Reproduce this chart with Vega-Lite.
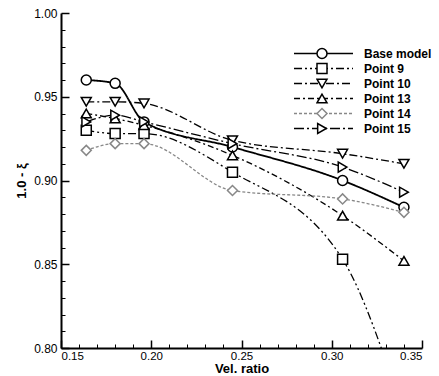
{
  "$schema": "https://vega.github.io/schema/vega-lite/v6.json",
  "width": 361,
  "height": 335,
  "autosize": "none",
  "padding": {"left": 61, "top": 13, "right": 17, "bottom": 28},
  "background": "white",
  "config": {
    "view": {"stroke": null},
    "font": "Liberation Sans",
    "axis": {"grid": false, "domainColor": "black", "domainWidth": 2, "tickColor": "black", "labelColor": "black", "titleColor": "black", "labelFont": "Liberation Sans", "titleFont": "Liberation Sans"}
  },
  "data": {
    "values": [
      {"series": "Base model", "x": 0.164, "y": 0.960},
      {"series": "Base model", "x": 0.180, "y": 0.958},
      {"series": "Base model", "x": 0.196, "y": 0.935},
      {"series": "Base model", "x": 0.245, "y": 0.920},
      {"series": "Base model", "x": 0.306, "y": 0.900},
      {"series": "Base model", "x": 0.340, "y": 0.884},
      {"series": "Point 9", "x": 0.164, "y": 0.930},
      {"series": "Point 9", "x": 0.180, "y": 0.928},
      {"series": "Point 9", "x": 0.196, "y": 0.928},
      {"series": "Point 9", "x": 0.245, "y": 0.905},
      {"series": "Point 9", "x": 0.306, "y": 0.853},
      {"series": "Point 9", "x": 0.340, "y": 0.760},
      {"series": "Point 10", "x": 0.164, "y": 0.947},
      {"series": "Point 10", "x": 0.180, "y": 0.947},
      {"series": "Point 10", "x": 0.196, "y": 0.946},
      {"series": "Point 10", "x": 0.245, "y": 0.924},
      {"series": "Point 10", "x": 0.306, "y": 0.916},
      {"series": "Point 10", "x": 0.340, "y": 0.910},
      {"series": "Point 13", "x": 0.164, "y": 0.940},
      {"series": "Point 13", "x": 0.180, "y": 0.937},
      {"series": "Point 13", "x": 0.196, "y": 0.933},
      {"series": "Point 13", "x": 0.245, "y": 0.915},
      {"series": "Point 13", "x": 0.306, "y": 0.879},
      {"series": "Point 13", "x": 0.340, "y": 0.852},
      {"series": "Point 14", "x": 0.164, "y": 0.918},
      {"series": "Point 14", "x": 0.180, "y": 0.922},
      {"series": "Point 14", "x": 0.196, "y": 0.922},
      {"series": "Point 14", "x": 0.245, "y": 0.894},
      {"series": "Point 14", "x": 0.306, "y": 0.889},
      {"series": "Point 14", "x": 0.340, "y": 0.881},
      {"series": "Point 15", "x": 0.164, "y": 0.935},
      {"series": "Point 15", "x": 0.180, "y": 0.939},
      {"series": "Point 15", "x": 0.196, "y": 0.935},
      {"series": "Point 15", "x": 0.245, "y": 0.922},
      {"series": "Point 15", "x": 0.306, "y": 0.908},
      {"series": "Point 15", "x": 0.340, "y": 0.893}
    ]
  },
  "layer": [
    {
      "mark": {"type": "line", "interpolate": "monotone", "clip": true},
      "encoding": {
        "x": {"field": "x", "type": "quantitative", "scale": {"domain": [0.15, 0.35], "nice": false, "zero": false},
          "axis": {"orient": "bottom", "values": [0.15, 0.2, 0.25, 0.3, 0.35], "format": ".2f", "tickSize": -8, "tickWidth": 1.5, "labelPadding": 10, "labelFontSize": 11.5, "title": "Vel. ratio", "titleFontSize": 13, "titleFontWeight": "bold", "titlePadding": 1}},
        "y": {"field": "y", "type": "quantitative", "scale": {"domain": [0.8, 1.0], "nice": false, "zero": false},
          "axis": {"orient": "left", "values": [0.8, 0.85, 0.9, 0.95, 1.0], "format": ".2f", "tickSize": -8, "tickWidth": 1.5, "labelPadding": 12, "labelFontSize": 12, "title": "1.0 - ξ", "titleFontSize": 13, "titleFontWeight": "bold", "titlePadding": 5}},
        "strokeDash": {"field": "series", "type": "nominal",
          "scale": {"domain": ["Base model", "Point 9", "Point 10", "Point 13", "Point 14", "Point 15"],
            "range": [[1, 0], [8, 3, 2, 3, 2, 3], [8, 3, 2, 3], [6, 3, 2, 3], [3, 2], [10, 3, 2, 3]]},
          "legend": {"title": null, "orient": "none", "legendX": 232, "legendY": 34, "symbolType": "stroke", "symbolSize": 3481, "symbolStrokeWidth": 1.3, "clipHeight": 13, "rowPadding": 2, "labelOffset": 10, "labelFontSize": 12, "labelFontWeight": "bold", "labelColor": "black", "labelFont": "Liberation Sans"}},
        "stroke": {"field": "series", "type": "nominal",
          "scale": {"domain": ["Base model", "Point 9", "Point 10", "Point 13", "Point 14", "Point 15"],
            "range": ["black", "black", "black", "black", "#888888", "black"]},
          "legend": {"title": null, "orient": "none", "legendX": 232, "legendY": 34, "symbolType": "stroke", "symbolSize": 3481, "symbolStrokeWidth": 1.3, "clipHeight": 13, "rowPadding": 2, "labelOffset": 10, "labelFontSize": 12, "labelFontWeight": "bold", "labelColor": "black", "labelFont": "Liberation Sans"}},
        "strokeWidth": {"condition": {"test": "datum.series === 'Base model'", "value": 1.8}, "value": 1.3}
      }
    },
    {
      "mark": {"type": "point", "filled": false, "fill": "white", "fillOpacity": 1, "opacity": 1, "strokeWidth": 1.5, "size": 100, "clip": true},
      "encoding": {
        "x": {"field": "x", "type": "quantitative",
          "axis": {"orient": "bottom", "values": [0.16, 0.17, 0.18, 0.19, 0.21, 0.22, 0.23, 0.24, 0.26, 0.27, 0.28, 0.29, 0.31, 0.32, 0.33, 0.34], "labels": false, "domain": false, "tickSize": -4, "tickWidth": 1, "title": null}},
        "y": {"field": "y", "type": "quantitative",
          "axis": {"orient": "left", "values": [0.81, 0.82, 0.83, 0.84, 0.86, 0.87, 0.88, 0.89, 0.91, 0.92, 0.93, 0.94, 0.96, 0.97, 0.98, 0.99], "labels": false, "domain": false, "tickSize": -4, "tickWidth": 1, "title": null}},
        "shape": {"field": "series", "type": "nominal", "sort": null,
          "scale": {"range": ["circle", "square", "triangle-down", "triangle-up", "diamond", "triangle-right"]},
          "legend": {"title": null, "orient": "none", "legendX": 255, "legendY": 34, "symbolSize": 100, "symbolStrokeWidth": 1.5, "symbolFillColor": "white", "symbolOpacity": 1, "clipHeight": 13, "rowPadding": 2, "labelExpr": "''", "labelFontSize": 12}},
        "stroke": {"field": "series", "type": "nominal", "sort": null,
          "scale": {"range": ["black", "black", "black", "black", "#888888", "black"]},
          "legend": {"title": null, "orient": "none", "legendX": 255, "legendY": 34, "symbolSize": 100, "symbolStrokeWidth": 1.5, "symbolFillColor": "white", "symbolOpacity": 1, "clipHeight": 13, "rowPadding": 2, "labelExpr": "''", "labelFontSize": 12}}
      }
    }
  ],
  "resolve": {
    "axis": {"x": "independent", "y": "independent"},
    "scale": {"stroke": "independent"},
    "legend": {"stroke": "independent", "shape": "independent", "strokeDash": "independent"}
  }
}
